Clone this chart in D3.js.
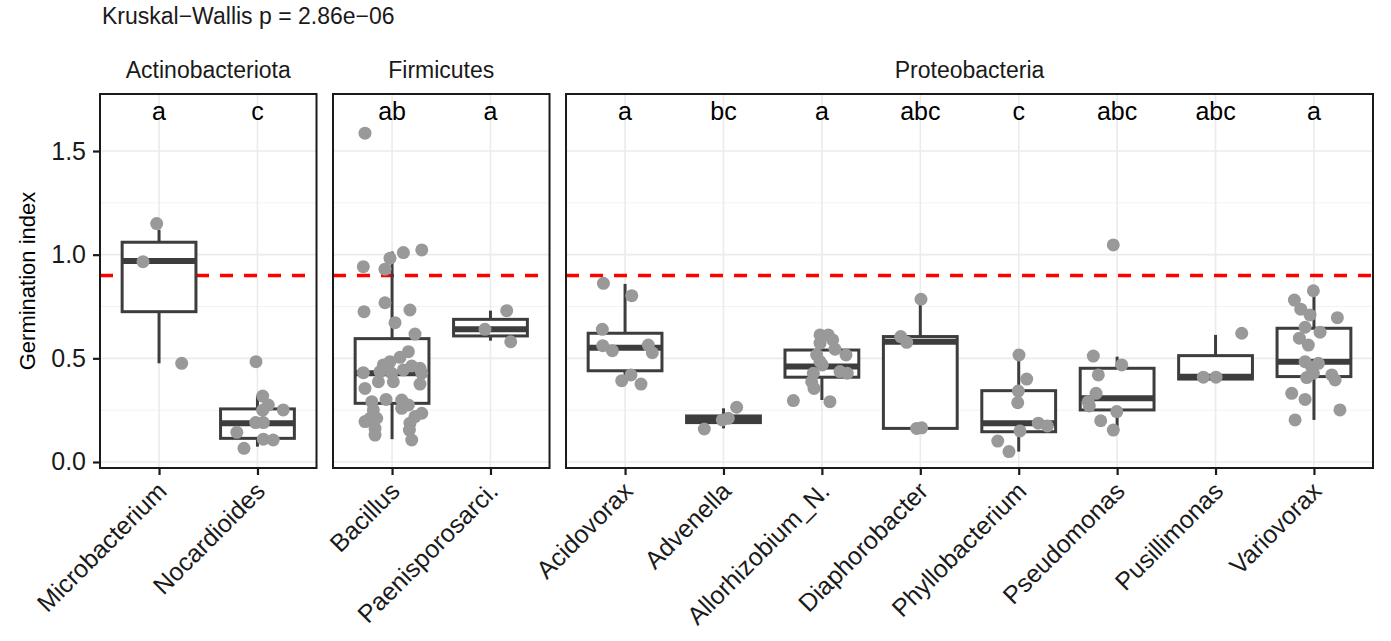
<!DOCTYPE html>
<html>
<head>
<meta charset="utf-8">
<script src="https://cdn.jsdelivr.net/npm/d3@7"></script>
<style>
  body { margin: 0; background: #fff; }
  svg { font-family: "Liberation Sans", Arial, sans-serif; }
</style>
</head>
<body>
<svg id="chart"></svg>
<script>
const phyla = ["Actinobacteriota", "Firmicutes", "Proteobacteria"];
const genera = ["Microbacterium", "Nocardioides", "Bacillus", "Paenisporosarci.",
  "Acidovorax", "Advenella", "Allorhizobium_N.", "Diaphorobacter",
  "Phyllobacterium", "Pseudomonas", "Pusillimonas", "Variovorax"];
const genusPhylum = ["Actinobacteriota", "Actinobacteriota", "Firmicutes", "Firmicutes",
  "Proteobacteria", "Proteobacteria", "Proteobacteria", "Proteobacteria",
  "Proteobacteria", "Proteobacteria", "Proteobacteria", "Proteobacteria"];
const letters = ["a", "c", "ab", "a", "a", "bc", "a", "abc", "c", "abc", "abc", "a"];

// boxplot stats
const boxLo  = [0.476, 0.074, 0.11, 0.585, 0.376, 0.162, 0.299, 0.162, 0.05, 0.162, 0.40, 0.203];
const boxQ1  = [0.725, 0.114, 0.283, 0.608, 0.44, 0.19, 0.409, 0.162, 0.146, 0.251, 0.40, 0.412];
const boxMed = [0.97, 0.187, 0.428, 0.64, 0.551, 0.205, 0.46, 0.58, 0.187, 0.307, 0.411, 0.484];
const boxQ3  = [1.06, 0.256, 0.595, 0.688, 0.621, 0.222, 0.54, 0.605, 0.344, 0.452, 0.513, 0.645];
const boxHi  = [1.12, 0.32, 1.015, 0.73, 0.859, 0.259, 0.613, 0.781, 0.516, 0.508, 0.613, 0.826];

// germination index of each isolate, per genus
const pointValues = [
  [1.15, 0.966, 0.476],
  [0.484, 0.318, 0.275, 0.251, 0.25, 0.19, 0.19, 0.143, 0.11, 0.106, 0.066],
  [1.586, 1.023, 1.01, 0.983, 0.942, 0.93, 0.768, 0.725, 0.733, 0.672, 0.617, 0.532, 0.505, 0.484,
   0.468, 0.463, 0.452, 0.431, 0.436, 0.428, 0.444, 0.428, 0.387, 0.387, 0.376, 0.355, 0.302, 0.299,
   0.291, 0.275, 0.259, 0.251, 0.235, 0.219, 0.211, 0.211, 0.195, 0.187, 0.162, 0.154, 0.13, 0.106],
  [0.73, 0.64, 0.58],
  [0.862, 0.802, 0.64, 0.561, 0.537, 0.564, 0.527, 0.42, 0.392, 0.376],
  [0.264, 0.211, 0.203, 0.159],
  [0.613, 0.613, 0.589, 0.573, 0.544, 0.516, 0.516, 0.468, 0.436, 0.428, 0.428, 0.387, 0.355, 0.296, 0.291, 0.484],
  [0.785, 0.605, 0.577, 0.162, 0.165],
  [0.516, 0.4, 0.342, 0.286, 0.187, 0.174, 0.15, 0.101, 0.05],
  [1.047, 0.511, 0.468, 0.42, 0.331, 0.291, 0.27, 0.243, 0.199, 0.154],
  [0.621, 0.409, 0.409],
  [0.826, 0.781, 0.737, 0.709, 0.696, 0.65, 0.626, 0.597, 0.564, 0.484, 0.476, 0.457, 0.428, 0.407,
   0.42, 0.396, 0.331, 0.302, 0.251, 0.203]
];
// horizontal jitter of each point, in category widths
const pointJitter = [
  [-0.024, -0.163, 0.23],
  [-0.015, 0.053, 0.11, 0.262, 0.053, -0.018, 0.06, -0.21, 0.06, 0.16, -0.137],
  [-0.275, 0.302, 0.115, -0.021, -0.292, -0.072, -0.072, -0.285, 0.182, 0.03, 0.233, 0.166, 0.081, -0.021,
   -0.089, 0.2, 0.284, -0.292, -0.122, -0.004, 0.115, 0.302, -0.139, 0.013, 0.284, -0.275, -0.061, 0.098,
   -0.206, 0.166, 0.098, -0.19, 0.302, 0.233, -0.224, -0.156, -0.275, 0.182, -0.173, 0.176, -0.173, 0.2],
  [0.165, -0.056, 0.206],
  [-0.22, 0.068, -0.231, -0.227, -0.129, 0.236, 0.277, 0.06, -0.034, 0.162],
  [0.134, 0.049, -0.012, -0.195],
  [-0.019, 0.065, 0.11, -0.019, 0.133, 0.245, -0.053, 0.004, 0.184, 0.258, -0.087, -0.104, -0.08, -0.29, 0.082, -0.019],
  [0.007, -0.199, -0.138, -0.037, 0.014],
  [0.003, 0.081, -0.004, -0.01, 0.199, 0.291, 0.013, -0.213, -0.099],
  [-0.039, -0.242, 0.047, -0.191, -0.214, -0.293, -0.283, -0.004, -0.167, -0.039],
  [0.266, -0.124, 0.005],
  [-0.006, -0.199, -0.134, -0.04, 0.238, -0.09, 0.062, -0.148, -0.057, -0.09, 0.045, -0.022, -0.006, -0.074,
   0.181, 0.215, -0.226, -0.09, 0.264, -0.192]
];
const yTicks = [0, 0.5, 1, 1.5];
const yMinor = [0.25, 0.75, 1.25];
const threshold = 0.9;
const letterY = 1.65;
const title = "Kruskal\u2212Wallis p = 2.86e\u221206";

const width = 1391, height = 641;
const margin = { top: 94, right: 18, bottom: 173, left: 100 };
const gap = 16.5;
const plotH = height - margin.top - margin.bottom;

const svg = d3.select("#chart").attr("width", width).attr("height", height);

const counts = phyla.map(p => genusPhylum.filter(g => g === p).length);
const units = d3.sum(counts, n => n - 1 + 1.2);
const unit = (width - margin.left - margin.right - gap * (phyla.length - 1)) / units;

const y = d3.scaleLinear().domain([-0.029, 1.775]).range([margin.top + plotH, margin.top]);

svg.append("text")
  .attr("x", 102).attr("y", 24)
  .style("font-size", "23px").attr("fill", "#1a1a1a")
  .text(title);

let left = margin.left;
phyla.forEach((phylum, pi) => {
  const idx = genera.map((g, i) => i).filter(i => genusPhylum[i] === phylum);
  const pw = (counts[pi] - 1 + 1.2) * unit;
  const x = d3.scalePoint().domain(idx.map(i => genera[i])).range([0, pw]).padding(0.6);

  const panel = svg.append("g").attr("transform", `translate(${left},0)`);

  // strip label
  panel.append("text")
    .attr("x", pw / 2).attr("y", 78)
    .attr("text-anchor", "middle")
    .style("font-size", "23px").attr("fill", "#1a1a1a")
    .text(phylum);

  // grid
  panel.selectAll(".minor").data(yMinor).enter().append("line")
    .attr("x1", 0).attr("x2", pw)
    .attr("y1", d => y(d)).attr("y2", d => y(d))
    .attr("stroke", "#f2f2f2").attr("stroke-width", 1);
  panel.selectAll(".major").data(yTicks).enter().append("line")
    .attr("x1", 0).attr("x2", pw)
    .attr("y1", d => y(d)).attr("y2", d => y(d))
    .attr("stroke", "#ebebeb").attr("stroke-width", 1.6);
  panel.selectAll(".vgrid").data(idx).enter().append("line")
    .attr("x1", i => x(genera[i])).attr("x2", i => x(genera[i]))
    .attr("y1", margin.top).attr("y2", margin.top + plotH)
    .attr("stroke", "#ebebeb").attr("stroke-width", 1.6);

  // threshold
  panel.append("line")
    .attr("x1", 0).attr("x2", pw)
    .attr("y1", y(threshold)).attr("y2", y(threshold))
    .attr("stroke", "#ff0000").attr("stroke-width", 3.5)
    .attr("stroke-dasharray", "13,11");

  // boxplots
  const bw = 0.75 * unit;
  const boxes = panel.selectAll(".box").data(idx).enter().append("g");
  boxes.append("line")
    .attr("x1", i => x(genera[i])).attr("x2", i => x(genera[i]))
    .attr("y1", i => y(boxHi[i])).attr("y2", i => y(boxQ3[i]))
    .attr("stroke", "#3d3d3d").attr("stroke-width", 3);
  boxes.append("line")
    .attr("x1", i => x(genera[i])).attr("x2", i => x(genera[i]))
    .attr("y1", i => y(boxQ1[i])).attr("y2", i => y(boxLo[i]))
    .attr("stroke", "#3d3d3d").attr("stroke-width", 3);
  boxes.append("rect")
    .attr("x", i => x(genera[i]) - bw / 2).attr("width", bw)
    .attr("y", i => y(boxQ3[i]))
    .attr("height", i => Math.max(1, y(boxQ1[i]) - y(boxQ3[i])))
    .attr("fill", "#fff").attr("stroke", "#3d3d3d").attr("stroke-width", 3);
  boxes.append("line")
    .attr("x1", i => x(genera[i]) - bw / 2).attr("x2", i => x(genera[i]) + bw / 2)
    .attr("y1", i => y(boxMed[i])).attr("y2", i => y(boxMed[i]))
    .attr("stroke", "#3d3d3d").attr("stroke-width", 6);

  // jittered points
  idx.forEach(i => {
    panel.selectAll(null).data(pointValues[i]).enter().append("circle")
      .attr("cx", (v, k) => x(genera[i]) + pointJitter[i][k] * unit)
      .attr("cy", v => y(v))
      .attr("r", 6.5)
      .attr("fill", "#999999");
  });

  // group letters
  panel.selectAll(".letter").data(idx).enter().append("text")
    .attr("x", i => x(genera[i])).attr("y", y(letterY))
    .attr("text-anchor", "middle")
    .style("font-size", "25px").attr("fill", "#000")
    .text(i => letters[i]);

  // border
  panel.append("rect")
    .attr("x", 0).attr("y", margin.top).attr("width", pw).attr("height", plotH)
    .attr("fill", "none").attr("stroke", "#1a1a1a").attr("stroke-width", 2);

  // x axis
  const xAxis = panel.append("g")
    .attr("transform", `translate(0,${margin.top + plotH})`)
    .call(d3.axisBottom(x).tickSize(7).tickSizeOuter(0));
  xAxis.select(".domain").remove();
  xAxis.selectAll(".tick line").attr("stroke", "#1a1a1a").attr("stroke-width", 2.2);
  xAxis.selectAll(".tick text")
    .attr("y", 0).attr("dy", "0.72em")
    .attr("transform", "translate(-4,12) rotate(-45)")
    .attr("text-anchor", "end")
    .style("font-size", "25px").attr("fill", "#1a1a1a")
    .style("font-family", "Liberation Sans, Arial, sans-serif");

  if (pi === 0) {
    const yAxis = panel.append("g")
      .call(d3.axisLeft(y).tickValues(yTicks).tickFormat(d3.format(".1f")).tickSize(7));
    yAxis.select(".domain").remove();
    yAxis.selectAll(".tick line").attr("stroke", "#1a1a1a").attr("stroke-width", 2.2);
    yAxis.selectAll(".tick text")
      .attr("x", -14)
      .style("font-size", "25px").attr("fill", "#1a1a1a")
      .style("font-family", "Liberation Sans, Arial, sans-serif");
  }

  left += pw + gap;
});

svg.append("text")
  .attr("transform", `translate(35,${margin.top + plotH / 2}) rotate(-90)`)
  .attr("text-anchor", "middle")
  .style("font-size", "22px").attr("fill", "#000")
  .text("Germination index");
</script>
</body>
</html>
